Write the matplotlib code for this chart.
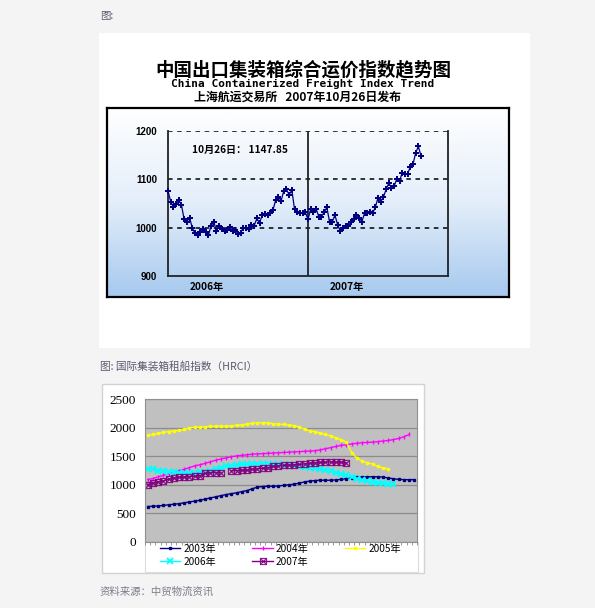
#!/usr/bin/env python3
# -*- coding: utf-8 -*-
"""
集装箱运价指数 / 租船指数 页面截图复刻
"""

import numpy as np
import matplotlib
matplotlib.use('Agg')
import matplotlib.pyplot as plt
from matplotlib.patches import Rectangle
from matplotlib.colors import LinearSegmentedColormap

plt.rcParams['font.family'] = ['Noto Sans CJK SC', 'DejaVu Sans']
plt.rcParams['axes.unicode_minus'] = False

W, H = 595, 608

# 图一：中国出口集装箱综合运价指数（每周）
cfi_2006 = [1076, 1054, 1043, 1049, 1057, 1047, 1017, 1012, 1021, 1000,
            988, 985, 991, 997, 991, 984, 1004, 1012, 993, 1004,
            997, 993, 995, 1001, 994, 995, 987, 990, 1000, 999,
            997, 1006, 1004, 1019, 1010, 1026, 1028, 1026, 1030, 1037,
            1057, 1064, 1055, 1076, 1079, 1068, 1078, 1038, 1033, 1031,
            1030, 1032]
cfi_2007 = [1017, 1039, 1033, 1039, 1023, 1023, 1032, 1042, 1012, 1012,
            1026, 1006, 993, 999, 1004, 1004, 1012, 1017, 1026, 1021,
            1012, 1030, 1031, 1033, 1030, 1042, 1062, 1054, 1063, 1079,
            1092, 1083, 1086, 1101, 1096, 1114, 1111, 1111, 1126, 1131,
            1155, 1168, 1147.85]
cfi_yticks = [900, 1000, 1100, 1200]
cfi_years = ['2006年', '2007年']

# 图二：国际集装箱租船指数（HRCI）
hrci_2003 = [620, 625, 630, 640, 650, 660, 670, 685, 700, 715,
             730, 750, 770, 790, 810, 830, 845, 860, 880, 900,
             930, 960, 970, 975, 975, 980, 990, 1000, 1010, 1030,
             1050, 1065, 1075, 1080, 1080, 1080, 1085, 1095, 1110, 1120,
             1135, 1140, 1140, 1140, 1140, 1135, 1120, 1105, 1095, 1090,
             1090, 1090]
hrci_2004 = [1090, 1110, 1140, 1165, 1190, 1220, 1245, 1270, 1300, 1330,
             1350, 1375, 1400, 1430, 1450, 1470, 1490, 1505, 1515, 1525,
             1535, 1540, 1545, 1550, 1555, 1560, 1565, 1570, 1575, 1580,
             1585, 1590, 1595, 1610, 1630, 1650, 1670, 1690, 1700, 1715,
             1725, 1735, 1740, 1745, 1755, 1765, 1775, 1790, 1810, 1840,
             1880]
hrci_2005 = [1870, 1880, 1900, 1915, 1930, 1945, 1950, 1970, 1995, 2005,
             2010, 2015, 2020, 2025, 2025, 2025, 2030, 2040, 2050, 2060,
             2075, 2085, 2085, 2080, 2070, 2060, 2055, 2045, 2035, 2010,
             1970, 1945, 1930, 1905, 1880, 1855, 1820, 1790, 1745, 1560,
             1470, 1415, 1385, 1360, 1320, 1295, 1280]
hrci_2006 = [1280, 1270, 1250, 1240, 1230, 1225, 1215, 1210, 1205, 1210,
             1220, 1230, 1250, 1275, 1300, 1320, 1335, 1345, 1355, 1360,
             1365, 1370, 1370, 1370, 1365, 1360, 1350, 1340, 1330, 1320,
             1310, 1300, 1290, 1275, 1260, 1235, 1215, 1195, 1165, 1140,
             1110, 1085, 1060, 1045, 1035, 1025, 1015, 1010]
hrci_2007 = [1005, 1030, 1050, 1070, 1095, 1120, 1130, 1140, 1145, 1150,
             1160, 1200, 1210, 1215, 1215, np.nan, 1245, 1250, 1255, 1260,
             1270, 1280, 1290, 1300, 1320, 1330, 1340, 1345, 1350, 1355,
             1365, 1375, 1385, 1390, 1395, 1400, 1400, 1395, 1380]
hrci_weeks = 52
hrci_yticks = [0, 500, 1000, 1500, 2000, 2500]
hrci_labels = ['2003年', '2004年', '2005年', '2006年', '2007年']


def rect(x0, y0, x1, y1):
    """像素坐标(左上为原点) -> 图坐标"""
    return [x0 / W, 1 - y1 / H, (x1 - x0) / W, (y1 - y0) / H]


def fx(x):
    return x / W


def fy(y):
    return 1 - y / H


fig = plt.figure(figsize=(W / 100, H / 100), dpi=100, facecolor='#f4f4f4')

# ---------------- 页面文字与白色底板 ----------------
fig.text(fx(100), fy(16), '图:', fontsize=7.5, color='#5a5a72', va='center')
fig.add_artist(Rectangle((fx(99), fy(348)), (530 - 99) / W, (348 - 33) / H,
                         transform=fig.transFigure, facecolor='white',
                         edgecolor='none', zorder=0))

fig.text(fx(303.5), fy(70), '中国出口集装箱综合运价指数趋势图', fontsize=13.3,
         fontweight='bold', ha='center', va='center')
fig.text(fx(303), fy(84), 'China Containerized Freight Index Trend',
         family='DejaVu Sans Mono', fontsize=8, fontweight='bold',
         ha='center', va='center')
fig.text(fx(297.5), fy(97), '上海航运交易所   2007年10月26日发布', fontsize=8.6,
         fontweight='bold', ha='center', va='center')

# 渐变背景框
box1 = fig.add_axes(rect(107, 108, 509, 297))
grad = np.linspace(0, 1, 256).reshape(-1, 1)
sky = LinearSegmentedColormap.from_list('sky', ['#ffffff', '#e4eefa', '#a6c9ee'])
box1.imshow(grad, aspect='auto', cmap=sky, extent=[0, 1, 0, 1], origin='upper')
box1.set_xticks([])
box1.set_yticks([])
for sp in box1.spines.values():
    sp.set_color('black')
    sp.set_linewidth(1.6)

# ---------------- 图一 ----------------
cfi = cfi_2006 + cfi_2007
ax1 = fig.add_axes(rect(168, 131, 448, 276))
ax1.patch.set_alpha(0)
for v in cfi_yticks[1:]:
    ax1.axhline(v, color='black', lw=1.1, ls=(0, (3, 3)), zorder=1)
ax1.axvline(len(cfi_2006), color='#222222', lw=1.3, zorder=1)
ax1.plot(np.arange(len(cfi)), cfi, color='#000080', lw=0.9,
         marker='P', ms=4.6, mew=0, zorder=3, clip_on=False)
ax1.set_xlim(0, 104)
ax1.set_ylim(900, 1200)
ax1.spines['top'].set_visible(False)
for side in ['left', 'right', 'bottom']:
    ax1.spines[side].set_color('#222222')
    ax1.spines[side].set_linewidth(1.3)
ax1.set_yticks(cfi_yticks)
ax1.set_yticklabels([str(v) for v in cfi_yticks], fontsize=7,
                    fontweight='bold', family='Liberation Sans')
ax1.set_xticks([14.5, 66.5])
ax1.set_xticklabels(cfi_years, fontsize=7.3, fontweight='bold')
ax1.tick_params(axis='y', length=0, pad=8)
ax1.tick_params(axis='x', length=0, pad=4.5)
ax1.text(8.9, 1161, f'10月26日： {cfi[-1]:.2f}', fontsize=7.3,
         fontweight='bold', va='center', ha='left')

# ---------------- 图二 ----------------
fig.text(fx(100), fy(366), '图: 国际集装箱租船指数（HRCI）', fontsize=7.7,
         color='#5a5a72', va='center')
fig.add_artist(Rectangle((fx(102), fy(573)), (424 - 102) / W, (573 - 384) / H,
                         transform=fig.transFigure, facecolor='white',
                         edgecolor='#d2d2d2', lw=1, zorder=0))
fig.add_artist(Rectangle((fx(145), fy(572)), (418 - 145) / W, (572 - 542) / H,
                         transform=fig.transFigure, facecolor='none',
                         edgecolor='#dcdcdc', lw=0.8, zorder=0))

ax2 = fig.add_axes(rect(145, 399, 417, 542), facecolor='#c0c0c0')
ax2.set_xlim(-0.5, hrci_weeks - 0.5)
ax2.set_ylim(0, 2500)
ax2.set_yticks(hrci_yticks)
ax2.set_yticklabels([str(v) for v in hrci_yticks], family='Liberation Serif',
                    fontsize=9.5)
ax2.tick_params(axis='y', length=0, pad=6.5)
ax2.set_xticks(np.arange(-0.5, hrci_weeks, 1))
ax2.set_xticklabels([])
ax2.tick_params(axis='x', length=2.2, width=0.6, color='#8a8a8a', direction='out')
ax2.grid(axis='y', color='#8c8c8c', lw=0.9)
ax2.set_axisbelow(True)
for sp in ax2.spines.values():
    sp.set_color('#909090')
    sp.set_linewidth(0.8)

series = [hrci_2003, hrci_2004, hrci_2005, hrci_2006, hrci_2007]
styles = [
    dict(color='#000080', marker='s', ms=1.6, lw=1.0),
    dict(color='#ff00ff', marker='|', ms=2.5, lw=1.0),
    dict(color='#ffff00', marker='s', ms=1.6, lw=1.0),
    dict(color='#00ffff', marker='x', ms=4, mew=1.3, lw=1.0),
    dict(color='#800080', marker=r'$\boxtimes$', ms=5, mew=0.2, lw=1.0),
]
handles = []
for vals, st, lab in zip(series, styles, hrci_labels):
    h, = ax2.plot(np.arange(len(vals)), vals, label=lab, **st)
    handles.append(h)

# 行优先排列：matplotlib 按列填充，所以调整顺序
order = [0, 3, 1, 4, 2]
fig.legend([handles[i] for i in order], [hrci_labels[i] for i in order],
           loc='upper left', bbox_to_anchor=(fx(160), fy(544)), ncol=3,
           frameon=False, fontsize=7.3, handlelength=2.0, handletextpad=0.3,
           columnspacing=3.6, labelspacing=0.25, borderpad=0, borderaxespad=0)

fig.text(fx(100), fy(592), '资料来源：中贸物流资讯', fontsize=7.5,
         color='#7c7c8c', va='center')

fig.savefig('out.png', dpi=100, facecolor=fig.get_facecolor())
